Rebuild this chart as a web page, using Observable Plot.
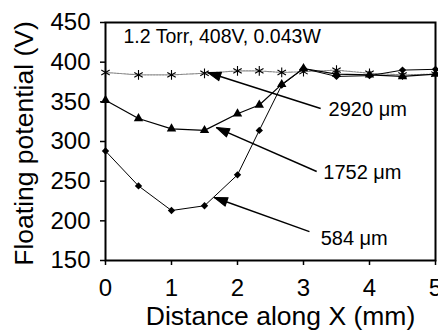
<!DOCTYPE html>
<html>
<head>
<meta charset="utf-8">
<script src="https://cdn.jsdelivr.net/npm/d3@7"></script>
<script src="https://cdn.jsdelivr.net/npm/@observablehq/plot@0.6"></script>
<style>
  html, body { margin: 0; padding: 0; background: #fff; }
  svg { display: block; }
</style>
</head>
<body>
<div id="chart"></div>
<script>
// ---- data ----
const xPos   = [0, 0.5, 1, 1.5, 2, 2.33, 2.67, 3, 3.5, 4, 4.5, 5];
const v2920  = [387, 384, 384, 386, 389, 389, 387, 388, 390, 386, 384, 385];
const v1752  = [352, 329, 316, 314, 335, 346, 372, 392, 385, 384, 382, 385];
const v584   = [288, 244, 213, 219, 258, 314, 371, 392, 382, 383, 390, 391];

const xTicks = [0, 1, 2, 3, 4, 5];
const yTicks = [150, 200, 250, 300, 350, 400, 450];

const seriesNames = ["2920 μm", "1752 μm", "584 μm"];
const labelX  = [3.38, 3.30, 3.26];
const labelY  = [340, 261, 178];
const arrowX1 = [3.26, 3.20, 3.09];
const arrowY1 = [341.6, 262.2, 186.5];
const arrowX2 = [1.55, 1.68, 1.65];
const arrowY2 = [387, 317.6, 229.4];

const condition = "1.2 Torr, 408V, 0.043W";
const xLabel = "Distance along X (mm)";
const yLabel = "Floating potential (V)";

// ---- tables ----
const toRows = (vals, name) => xPos.map((x, i) => ({x, y: vals[i], name}));
const s2920 = toRows(v2920, seriesNames[0]);
const s1752 = toRows(v1752, seriesNames[1]);
const s584  = toRows(v584, seriesNames[2]);
const arrows = seriesNames.map((n, i) => ({
  name: n, x1: arrowX1[i], y1: arrowY1[i], x2: arrowX2[i], y2: arrowY2[i],
  lx: labelX[i], ly: labelY[i]
}));

// ---- layout ----
const W = 438, H = 332;
const mL = 105, mR = 3, mT = 22, mB = 72;
const xDomain = [0, 5], yDomain = [150, 450];

// standalone scales used only to orient the arrowheads
const sx = Plot.scale({x: {domain: xDomain, range: [mL, W - mR]}});
const sy = Plot.scale({y: {domain: yDomain, range: [H - mB, mT]}});
const headAngle = d => {
  const dx = sx.apply(d.x2) - sx.apply(d.x1);
  const dy = sy.apply(d.y2) - sy.apply(d.y1);
  return Math.atan2(dx, -dy) * 180 / Math.PI;
};

const headShape = {
  draw(context, l, r) {
    context.moveTo(0, -l);
    context.lineTo(-r, 0);
    context.lineTo(r, 0);
    context.closePath();
  }
};

const chart = Plot.plot({
  width: W,
  height: H,
  marginLeft: mL,
  marginRight: mR,
  marginTop: mT,
  marginBottom: mB,
  style: {fontFamily: "'Liberation Sans', Arial, Helvetica, sans-serif", color: "black", background: "white"},
  x: {domain: xDomain},
  y: {domain: yDomain},
  marks: [
    Plot.axisX({ticks: xTicks, tickFormat: d3.format("d"), tickSize: 5, tickPadding: 13, fontSize: 24, label: null, strokeWidth: 1.5}),
    Plot.axisY({ticks: yTicks, tickFormat: d3.format("d"), tickSize: 5, tickPadding: 10, fontSize: 24, label: null, strokeWidth: 1.5}),
    Plot.frame({stroke: "black", strokeWidth: 2}),
    // 2920 µm series
    Plot.line(s2920, {x: "x", y: "y", stroke: "#888", strokeWidth: 1.1, strokeDasharray: "2,1"}),
    Plot.dot(s2920, {x: "x", y: "y", symbol: "asterisk", r: 4.6, stroke: "black", strokeWidth: 1.1}),
    // 1752 µm series
    Plot.line(s1752, {x: "x", y: "y", stroke: "black", strokeWidth: 1.2}),
    Plot.dot(s1752, {x: "x", y: "y", symbol: "triangle", r: 3.5, fill: "black", stroke: "none"}),
    // 584 µm series
    Plot.line(s584, {x: "x", y: "y", stroke: "black", strokeWidth: 1}),
    Plot.dot(s584, {x: "x", y: "y", symbol: "diamond2", r: 3.3, fill: "black", stroke: "none"}),
    // annotation arrows
    Plot.link(arrows, {x1: "x1", y1: "y1", x2: "x2", y2: "y2", stroke: "black", strokeWidth: 1.4}),
    Plot.vector(arrows, {x: "x2", y: "y2", rotate: headAngle, length: 13, r: 4.5, anchor: "end",
      shape: headShape, fill: "black", stroke: "black", strokeWidth: 1}),
    Plot.text(arrows, {x: "lx", y: "ly", text: "name", textAnchor: "start", fontSize: 20, fill: "black"}),
    // condition text
    Plot.text([condition], {frameAnchor: "top-left", dx: 18, dy: 14, lineAnchor: "middle", textAnchor: "start", fontSize: 19.5, fill: "black"}),
    // axis labels
    Plot.text([xLabel], {frameAnchor: "bottom", dx: 10, dy: 56, lineAnchor: "middle", textAnchor: "middle", fontSize: 26.5, fill: "black"}),
    Plot.text([yLabel], {frameAnchor: "left", dx: -81, dy: 2, rotate: -90, lineAnchor: "middle", textAnchor: "middle", fontSize: 26.5, fill: "black"})
  ]
});

document.getElementById("chart").appendChild(chart);
</script>
</body>
</html>
